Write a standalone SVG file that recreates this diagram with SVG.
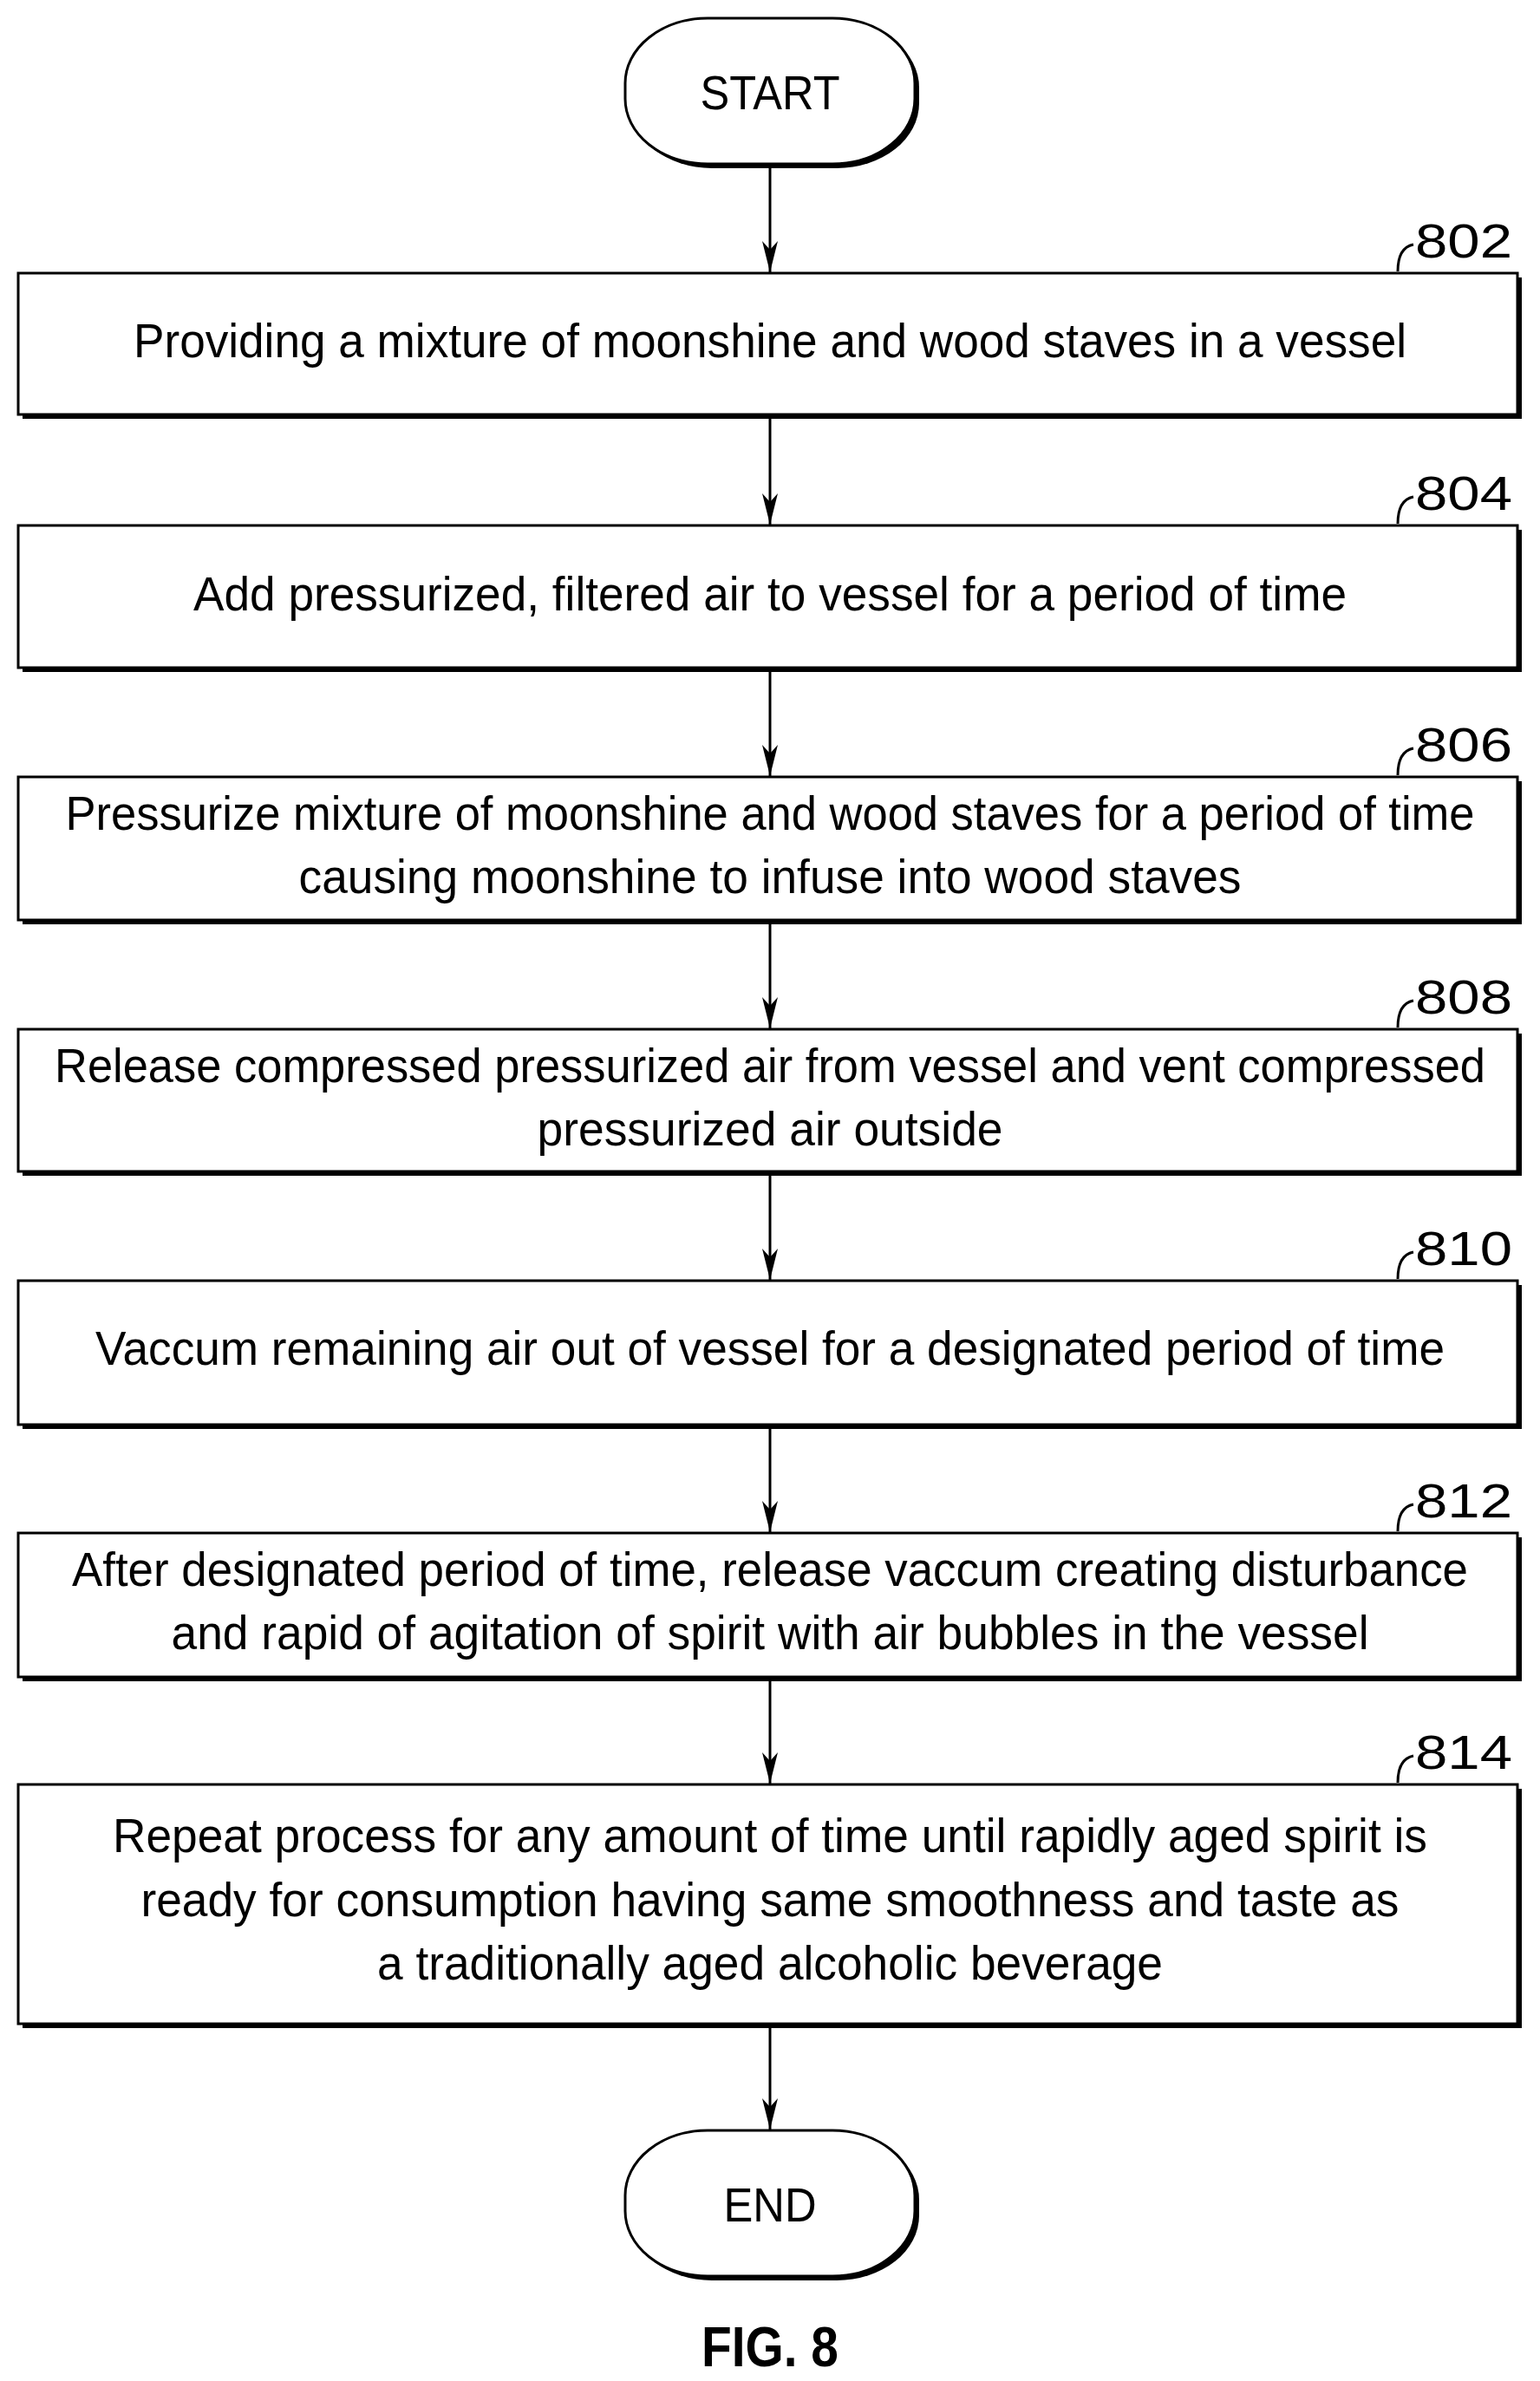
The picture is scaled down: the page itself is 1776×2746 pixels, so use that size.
<svg xmlns="http://www.w3.org/2000/svg" width="1776" height="2746" viewBox="0 0 1776 2746">
<style>
.box{fill:#fff;stroke:#000;stroke-width:3}
.sh{fill:#000}
.t{font-family:"Liberation Sans",Arial,sans-serif;font-size:56px;text-anchor:middle;fill:#000}
.ref{font-family:"Liberation Sans",Arial,sans-serif;font-size:56px;fill:#000}
.c{stroke:#000;stroke-width:3;fill:none}
</style>
<defs><marker id="ah" markerWidth="36" markerHeight="18" refX="36" refY="9" orient="auto" markerUnits="userSpaceOnUse" viewBox="0 0 36 18"><path d="M0,0 L36,9 L0,18 L10,9 Z" fill="#000"/></marker></defs>
<rect width="1776" height="2746" fill="#fff"/>
<g id="connectors">
<line class="c" x1="888" y1="191" x2="888" y2="314" marker-end="url(#ah)"/>
<line class="c" x1="888" y1="483" x2="888" y2="605" marker-end="url(#ah)"/>
<line class="c" x1="888" y1="775" x2="888" y2="895" marker-end="url(#ah)"/>
<line class="c" x1="888" y1="1066" x2="888" y2="1186" marker-end="url(#ah)"/>
<line class="c" x1="888" y1="1356" x2="888" y2="1476" marker-end="url(#ah)"/>
<line class="c" x1="888" y1="1648" x2="888" y2="1767" marker-end="url(#ah)"/>
<line class="c" x1="888" y1="1939" x2="888" y2="2057" marker-end="url(#ah)"/>
<line class="c" x1="888" y1="2339" x2="888" y2="2456" marker-end="url(#ah)"/>
</g>
<g id="start">
<rect x="726" y="26" width="334" height="168" rx="95" ry="75" class="sh"/>
<rect x="721" y="21" width="334" height="168" rx="95" ry="75" class="box"/>
<text class="t" x="888" y="126" textLength="161" lengthAdjust="spacingAndGlyphs">START</text>
</g>
<g id="n802">
<rect x="26" y="320" width="1729" height="163" class="sh"/>
<rect x="21" y="315" width="1729" height="163" class="box"/>
<text class="t" x="888" y="412" textLength="1468" lengthAdjust="spacingAndGlyphs">Providing a mixture of moonshine and wood staves in a vessel</text>
<path class="c" d="M1612,313 C1612,292 1620,284 1630,282"/><text class="ref" x="1632" y="297" textLength="112" lengthAdjust="spacingAndGlyphs">802</text>
</g>
<g id="n804">
<rect x="26" y="611" width="1729" height="164" class="sh"/>
<rect x="21" y="606" width="1729" height="164" class="box"/>
<text class="t" x="888" y="704" textLength="1330" lengthAdjust="spacingAndGlyphs">Add pressurized, filtered air to vessel for a period of time</text>
<path class="c" d="M1612,604 C1612,583 1620,575 1630,573"/><text class="ref" x="1632" y="588" textLength="112" lengthAdjust="spacingAndGlyphs">804</text>
</g>
<g id="n806">
<rect x="26" y="901" width="1729" height="165" class="sh"/>
<rect x="21" y="896" width="1729" height="165" class="box"/>
<text class="t" x="888" y="957" textLength="1625" lengthAdjust="spacingAndGlyphs">Pressurize mixture of moonshine and wood staves for a period of time</text>
<text class="t" x="888" y="1030" textLength="1087" lengthAdjust="spacingAndGlyphs">causing moonshine to infuse into wood staves</text>
<path class="c" d="M1612,894 C1612,873 1620,865 1630,863"/><text class="ref" x="1632" y="878" textLength="112" lengthAdjust="spacingAndGlyphs">806</text>
</g>
<g id="n808">
<rect x="26" y="1192" width="1729" height="164" class="sh"/>
<rect x="21" y="1187" width="1729" height="164" class="box"/>
<text class="t" x="888" y="1248" textLength="1650" lengthAdjust="spacingAndGlyphs">Release compressed pressurized air from vessel and vent compressed</text>
<text class="t" x="888" y="1321" textLength="537" lengthAdjust="spacingAndGlyphs">pressurized air outside</text>
<path class="c" d="M1612,1185 C1612,1164 1620,1156 1630,1154"/><text class="ref" x="1632" y="1169" textLength="112" lengthAdjust="spacingAndGlyphs">808</text>
</g>
<g id="n810">
<rect x="26" y="1482" width="1729" height="166" class="sh"/>
<rect x="21" y="1477" width="1729" height="166" class="box"/>
<text class="t" x="888" y="1574" textLength="1556" lengthAdjust="spacingAndGlyphs">Vaccum remaining air out of vessel for a designated period of time</text>
<path class="c" d="M1612,1475 C1612,1454 1620,1446 1630,1444"/><text class="ref" x="1632" y="1459" textLength="112" lengthAdjust="spacingAndGlyphs">810</text>
</g>
<g id="n812">
<rect x="26" y="1773" width="1729" height="166" class="sh"/>
<rect x="21" y="1768" width="1729" height="166" class="box"/>
<text class="t" x="888" y="1829" textLength="1610" lengthAdjust="spacingAndGlyphs">After designated period of time, release vaccum creating disturbance</text>
<text class="t" x="888" y="1902" textLength="1381" lengthAdjust="spacingAndGlyphs">and rapid of agitation of spirit with air bubbles in the vessel</text>
<path class="c" d="M1612,1766 C1612,1745 1620,1737 1630,1735"/><text class="ref" x="1632" y="1750" textLength="112" lengthAdjust="spacingAndGlyphs">812</text>
</g>
<g id="n814">
<rect x="26" y="2063" width="1729" height="276" class="sh"/>
<rect x="21" y="2058" width="1729" height="276" class="box"/>
<text class="t" x="888" y="2136" textLength="1516" lengthAdjust="spacingAndGlyphs">Repeat process for any amount of time until rapidly aged spirit is</text>
<text class="t" x="888" y="2210" textLength="1451" lengthAdjust="spacingAndGlyphs">ready for consumption having same smoothness and taste as</text>
<text class="t" x="888" y="2283" textLength="906" lengthAdjust="spacingAndGlyphs">a traditionally aged alcoholic beverage</text>
<path class="c" d="M1612,2056 C1612,2035 1620,2027 1630,2025"/><text class="ref" x="1632" y="2040" textLength="112" lengthAdjust="spacingAndGlyphs">814</text>
</g>
<g id="end">
<rect x="726" y="2462" width="334" height="168" rx="95" ry="75" class="sh"/>
<rect x="721" y="2457" width="334" height="168" rx="95" ry="75" class="box"/>
<text class="t" x="888" y="2562" textLength="107" lengthAdjust="spacingAndGlyphs">END</text>
</g>
<text x="888" y="2729" textLength="158" lengthAdjust="spacingAndGlyphs" style="font-family:'Liberation Sans',Arial,sans-serif;font-size:64px;font-weight:bold;text-anchor:middle">FIG. 8</text>
</svg>
